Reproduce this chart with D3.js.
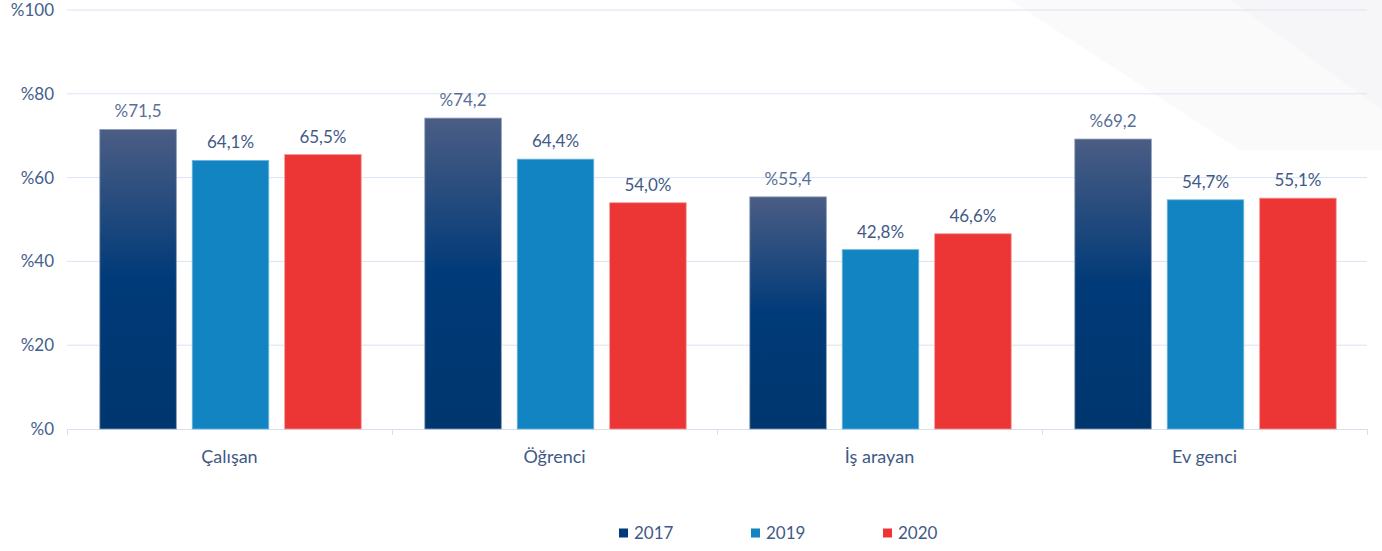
<!DOCTYPE html>
<html>
<head>
<meta charset="utf-8">
<script src="https://cdnjs.cloudflare.com/ajax/libs/d3/7.8.5/d3.min.js"></script>
<style>
  body { margin: 0; background: #fff; }
  svg { display: block; font-family: "Lato", "Open Sans", sans-serif; }
</style>
</head>
<body>
<svg></svg>
<script>
// data
let categories = ["Çalışan", "Öğrenci", "İş arayan", "Ev genci"];
let years = ["2017", "2019", "2020"];
let values2017 = [71.5, 74.2, 55.4, 69.2];
let values2019 = [64.1, 64.4, 42.8, 54.7];
let values2020 = [65.5, 54.0, 46.6, 55.1];
let yTicks = [0, 20, 40, 60, 80, 100];

let width = 1382;
let height = 551;
let plotLeft = 67, plotRight = 1367, plotTop = 10, plotBottom = 429;

let svg = d3.select("svg").attr("width", width).attr("height", height);

// very faint diagonal shading in the top right corner
let bg = svg.append("g");
bg.append("polygon").attr("points", "1010,0 1382,0 1382,150 1240,150").attr("fill", "#fafafb");
bg.append("polygon").attr("points", "1230,0 1382,0 1382,110").attr("fill", "#f6f6f8");

let defs = svg.append("defs");
let grad = defs.append("linearGradient").attr("id", "g2017")
  .attr("x1", 0).attr("y1", 0).attr("x2", 0).attr("y2", 1);
grad.append("stop").attr("offset", "0%").attr("stop-color", "#4b5d84");
grad.append("stop").attr("offset", "50%").attr("stop-color", "#003a78");
grad.append("stop").attr("offset", "100%").attr("stop-color", "#00366e");

let colors = { "2017": "url(#g2017)", "2019": "#1284c2", "2020": "#ec3535" };
let strokes = { "2017": "#8c9cb8", "2019": "#6fb6dd", "2020": "#f49a9a" };
let legendColors = { "2017": "#003a78", "2019": "#1284c2", "2020": "#ec3535" };

let rows = categories.map((c, i) => ({
  cat: c,
  vals: [
    { year: "2017", v: values2017[i] },
    { year: "2019", v: values2019[i] },
    { year: "2020", v: values2020[i] }
  ]
}));

let x0 = d3.scaleBand().domain(categories).range([plotLeft, plotRight]).padding(0);
let x1 = d3.scaleBand().domain(years).range([0, x0.bandwidth()])
  .paddingInner(0.172).paddingOuter(0.344);
let y = d3.scaleLinear().domain([0, 100]).range([plotBottom, plotTop]);

// gridlines
svg.append("g").selectAll("line")
  .data(yTicks.filter(d => d > 0))
  .enter().append("line")
  .attr("x1", plotLeft).attr("x2", plotRight)
  .attr("y1", d => y(d)).attr("y2", d => y(d))
  .attr("stroke", "#d9e4f3").attr("stroke-width", 1);

// y axis labels
let yAxis = d3.axisLeft(y).tickValues(yTicks).tickSize(0).tickPadding(13)
  .tickFormat(d => "%" + d);
let gy = svg.append("g").attr("transform", "translate(" + plotLeft + ",0)").call(yAxis);
gy.select(".domain").remove();
gy.selectAll("text").attr("fill", "#44608d").style("font-size", "17px")
  .style("font-family", "Lato, sans-serif");

// x axis
let xAxis = d3.axisBottom(x0).tickSize(0).tickPadding(21);
let gx = svg.append("g").attr("transform", "translate(0," + plotBottom + ")").call(xAxis);
gx.select(".domain").attr("stroke", "#d6e0ee");
gx.selectAll("text").attr("fill", "#3f5a86").style("font-size", "18px")
  .style("font-family", "Lato, sans-serif");
// category separators
svg.append("g").selectAll("line")
  .data(categories.concat(["end"]))
  .enter().append("line")
  .attr("x1", (d, i) => plotLeft + i * x0.step() + 0.5)
  .attr("x2", (d, i) => plotLeft + i * x0.step() + 0.5)
  .attr("y1", plotBottom).attr("y2", plotBottom + 6)
  .attr("stroke", "#d6e0ee");

// bars
let groups = svg.append("g").selectAll("g")
  .data(rows).enter().append("g")
  .attr("transform", d => "translate(" + (x0(d.cat) + 1) + ",0)");

groups.selectAll("rect")
  .data(d => d.vals)
  .enter().append("rect")
  .attr("x", d => x1(d.year))
  .attr("width", x1.bandwidth())
  .attr("y", d => y(d.v))
  .attr("height", d => y(0) - y(d.v))
  .attr("fill", d => colors[d.year])
  .attr("stroke", d => strokes[d.year])
  .attr("stroke-width", 0.8);

groups.selectAll("text")
  .data(d => d.vals)
  .enter().append("text")
  .attr("x", d => x1(d.year) + x1.bandwidth() / 2)
  .attr("y", d => y(d.v) - 12)
  .attr("text-anchor", "middle")
  .attr("fill", d => d.year == "2017" ? "#5a6f96" : "#3f5a86")
  .style("font-size", "17px")
  .text(d => {
    let s = d.v.toFixed(1).replace(".", ",");
    return d.year == "2017" ? "%" + s : s + "%";
  });

// legend
let legendX = [619, 751, 883];
let legend = svg.append("g").selectAll("g")
  .data(years).enter().append("g")
  .attr("transform", (d, i) => "translate(" + legendX[i] + ",533)");
legend.append("rect").attr("x", 0).attr("y", -4.5).attr("width", 9).attr("height", 9)
  .attr("fill", d => legendColors[d]);
legend.append("text").attr("x", 15).attr("y", 6)
  .attr("fill", "#3f5a86").style("font-size", "17px")
  .text(d => d);
</script>
</body>
</html>
